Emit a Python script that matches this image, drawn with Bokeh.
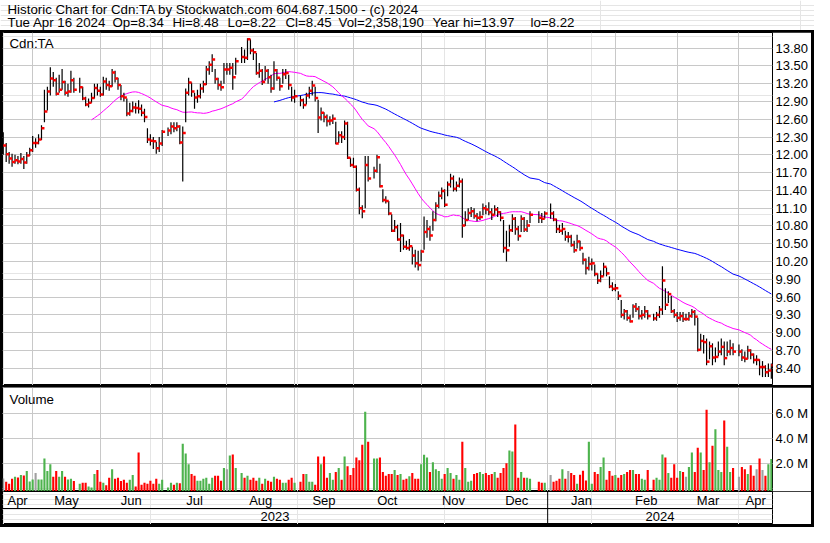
import numpy as np
import pandas as pd
from bokeh.plotting import figure
from bokeh.layouts import column
from bokeh.models import (ColumnDataSource, Range1d, LinearAxis, FixedTicker,
                          PrintfTickFormatter, Grid, Label, Span)
from bokeh.transform import dodge
from bokeh.core.properties import value
from bokeh.embed import file_html
from bokeh.resources import INLINE

FONT = "Liberation Sans"

# ------------------------------------------------------------------ data
first_day = "2023-04-17"
last_day = "2024-04-16"
market_holidays = ["2023-05-22", "2023-07-03", "2023-08-07", "2023-09-04",
                   "2023-10-09", "2023-12-25", "2023-12-26", "2024-01-01",
                   "2024-02-19", "2024-03-29"]

close = [
    12.16, 12.01, 11.94, 11.88, 11.91,
    11.89, 11.93, 11.87, 11.99, 12.08,
    12.20, 12.20, 12.26, 12.45, 12.73,
    13.07, 13.29, 13.26, 13.03, 13.10,
    13.23, 13.05, 13.07, 13.26, 13.10,
    13.14, 12.95, 12.85, 12.88,
    12.96, 13.13, 13.08, 13.02, 13.24,
    13.18, 13.16, 13.39, 13.29, 13.18,
    12.99, 12.97, 12.70, 12.74, 12.80,
    12.79, 12.78, 12.71, 12.64, 12.26,
    12.24, 12.23, 12.11, 12.19, 12.39,
    12.41, 12.48, 12.45, 12.48,
    12.21, 12.37, 13.05, 13.22, 13.07,
    12.97, 12.99, 13.12, 13.19, 13.44,
    13.52, 13.61, 13.28, 13.18, 13.14,
    13.44, 13.44, 13.47, 13.31, 13.58,
    13.65, 13.64, 13.95, 13.76,
    13.73, 13.38, 13.42, 13.23, 13.42,
    13.31, 13.12, 13.43, 13.30, 13.16,
    13.36, 13.38, 13.18, 12.97, 12.99,
    12.92, 12.84, 13.00, 13.08,
    13.17, 12.96, 12.63, 12.71, 12.64,
    12.57, 12.58, 12.61, 12.19, 12.33,
    12.30, 12.53, 11.95, 11.83, 11.80,
    11.41, 11.10, 11.05, 11.83, 11.60,
    11.73, 11.96, 11.47, 11.24,
    11.22, 11.01, 10.72, 10.78, 10.57,
    10.64, 10.45, 10.43, 10.46, 10.30,
    10.17, 10.14, 10.37, 10.70, 10.75,
    10.64, 10.90, 11.14, 11.31, 11.39,
    11.16, 11.50, 11.60, 11.43, 11.48,
    11.55, 10.81, 10.90, 11.02, 11.05,
    10.97, 10.94, 10.95, 11.10, 11.08,
    11.03, 10.99, 11.08, 11.03, 10.94,
    10.43, 10.39, 10.73, 10.92, 10.75,
    10.63, 10.92, 10.74, 10.81, 10.99,
    10.94, 10.92, 11.01,
    11.01, 10.91, 10.75, 10.72,
    10.75, 10.62, 10.62, 10.48, 10.39,
    10.54, 10.43, 10.23, 10.09, 10.16,
    10.17, 9.99, 9.88, 9.95, 10.11,
    10.00, 9.78, 9.74, 9.75, 9.62,
    9.30, 9.36, 9.25, 9.19, 9.44,
    9.40, 9.28, 9.30, 9.36, 9.28,
    9.24, 9.30, 9.39, 9.88,
    9.47, 9.65, 9.36, 9.30, 9.25,
    9.28, 9.23, 9.23, 9.28, 9.35,
    9.27, 8.71, 8.86, 8.84, 8.51,
    8.77, 8.58, 8.59, 8.68, 8.76,
    8.57, 8.68, 8.74, 8.68,
    8.68, 8.58, 8.56, 8.70, 8.63,
    8.54, 8.54, 8.42, 8.42, 8.33,
    8.36, 8.45,
]

high = [
    12.38, 12.20, 12.05, 12.02, 12.00,
    11.98, 12.03, 11.98, 12.05, 12.12,
    12.32, 12.28, 12.35, 12.50, 13.10,
    13.15, 13.48, 13.40, 13.30, 13.35,
    13.45, 13.25, 13.20, 13.42, 13.30,
    13.30, 13.15, 12.98, 12.95,
    13.05, 13.20, 13.20, 13.15, 13.32,
    13.30, 13.25, 13.45, 13.42, 13.30,
    13.18, 13.05, 12.95, 12.88, 12.90,
    12.88, 12.92, 12.85, 12.78, 12.45,
    12.35, 12.30, 12.22, 12.30, 12.42,
    12.46, 12.55, 12.55, 12.55,
    12.50, 12.48, 13.12, 13.30, 13.22,
    13.05, 13.10, 13.20, 13.25, 13.50,
    13.58, 13.70, 13.45, 13.30, 13.25,
    13.55, 13.55, 13.55, 13.55, 13.64,
    13.82, 13.78, 13.97, 13.95,
    13.80, 13.72, 13.55, 13.45, 13.50,
    13.45, 13.35, 13.58, 13.45, 13.30,
    13.45, 13.45, 13.35, 13.15, 13.10,
    13.00, 12.95, 13.05, 13.15,
    13.25, 13.15, 12.93, 12.80, 12.72,
    12.68, 12.65, 12.68, 12.56, 12.40,
    12.40, 12.58, 12.56, 11.95, 11.95,
    11.82, 11.45, 11.15, 11.98, 11.98,
    11.80, 12.00, 11.85, 11.42,
    11.30, 11.22, 11.00, 10.90, 10.82,
    10.85, 10.65, 10.55, 10.58, 10.45,
    10.40, 10.38, 10.40, 10.96, 10.90,
    10.80, 11.05, 11.20, 11.38, 11.45,
    11.42, 11.55, 11.68, 11.65, 11.55,
    11.62, 11.60, 11.05, 11.10, 11.12,
    11.10, 11.02, 11.05, 11.18, 11.15,
    11.20, 11.10, 11.15, 11.12, 11.05,
    10.90, 10.72, 10.82, 11.00, 10.95,
    10.80, 10.98, 10.95, 10.90, 11.05,
    11.05, 11.02, 11.05,
    11.18, 11.05, 10.92, 10.82,
    10.85, 10.72, 10.70, 10.65, 10.55,
    10.65, 10.55, 10.35, 10.25, 10.28,
    10.25, 10.15, 10.00, 10.05, 10.18,
    10.10, 9.95, 9.85, 9.82, 9.70,
    9.55, 9.40, 9.38, 9.30, 9.48,
    9.50, 9.45, 9.38, 9.45, 9.38,
    9.32, 9.35, 9.45, 10.12,
    9.75, 9.70, 9.62, 9.40, 9.35,
    9.35, 9.35, 9.32, 9.35, 9.40,
    9.38, 9.25, 8.98, 8.96, 8.90,
    8.85, 8.82, 8.75, 8.85, 8.90,
    8.85, 8.85, 8.88, 8.82,
    8.80, 8.72, 8.68, 8.78, 8.72,
    8.65, 8.62, 8.55, 8.52, 8.45,
    8.48, 8.48,
]

low = [
    12.00, 11.88, 11.85, 11.80, 11.85,
    11.84, 11.85, 11.76, 11.85, 11.98,
    12.05, 12.12, 12.18, 12.25, 12.55,
    12.75, 13.00, 13.15, 13.00, 13.05,
    13.10, 13.00, 12.98, 13.05, 13.05,
    13.05, 12.92, 12.82, 12.80,
    12.88, 12.95, 13.00, 12.98, 13.00,
    13.10, 13.08, 13.15, 13.22, 13.10,
    12.92, 12.90, 12.65, 12.66, 12.72,
    12.70, 12.70, 12.65, 12.55, 12.20,
    12.16, 12.10, 12.02, 12.05, 12.15,
    12.32, 12.35, 12.38, 12.40,
    12.18, 11.55, 12.55, 13.00, 12.98,
    12.78, 12.88, 12.95, 13.05, 13.18,
    13.35, 13.40, 13.20, 13.10, 13.08,
    13.20, 13.35, 13.35, 13.10, 13.35,
    13.55, 13.55, 13.60, 13.70,
    13.60, 13.35, 13.30, 13.18, 13.25,
    13.20, 13.05, 13.10, 13.25, 13.08,
    13.20, 13.28, 13.10, 12.90, 12.88,
    12.82, 12.78, 12.85, 12.95,
    13.00, 12.90, 12.37, 12.58, 12.55,
    12.48, 12.50, 12.52, 12.18, 12.20,
    12.20, 12.25, 11.93, 11.80, 11.78,
    11.38, 11.00, 10.93, 11.10, 11.55,
    11.60, 11.70, 11.45, 11.20,
    11.18, 10.98, 10.70, 10.70, 10.55,
    10.36, 10.40, 10.40, 10.38, 10.15,
    10.10, 10.05, 10.20, 10.40, 10.60,
    10.55, 10.72, 10.88, 11.10, 11.25,
    11.12, 11.30, 11.45, 11.38, 11.38,
    11.45, 10.60, 10.80, 10.90, 10.95,
    10.92, 10.88, 10.90, 10.98, 11.00,
    10.98, 10.90, 10.98, 10.95, 10.88,
    10.35, 10.20, 10.45, 10.70, 10.65,
    10.55, 10.70, 10.70, 10.70, 10.85,
    10.85, 10.85, 10.92,
    10.92, 10.88, 10.68, 10.68,
    10.65, 10.55, 10.52, 10.45, 10.35,
    10.42, 10.38, 10.15, 9.98, 10.05,
    10.05, 9.95, 9.82, 9.85, 9.95,
    9.95, 9.75, 9.70, 9.70, 9.55,
    9.25, 9.22, 9.20, 9.17, 9.25,
    9.35, 9.22, 9.22, 9.25, 9.22,
    9.20, 9.20, 9.25, 9.30,
    9.38, 9.50, 9.33, 9.25, 9.18,
    9.20, 9.18, 9.20, 9.20, 9.25,
    9.12, 8.68, 8.70, 8.65, 8.45,
    8.55, 8.45, 8.50, 8.60, 8.62,
    8.45, 8.60, 8.62, 8.62,
    8.60, 8.52, 8.50, 8.55, 8.55,
    8.48, 8.45, 8.28, 8.25, 8.25,
    8.25, 8.22,
]

volume_m = [
    0.82, 0.56, 0.41, 0.79, 0.95,
    0.90, 1.10, 1.05, 1.41, 0.59,
    0.74, 1.26, 0.74, 0.74, 2.41,
    1.41, 1.95, 0.95, 1.41, 0.95,
    1.41, 0.95, 0.74, 0.79, 0.62,
    0.41, 0.49, 0.49, 0.18,
    0.10, 1.18, 1.49, 0.56, 0.49,
    0.28, 0.87, 1.56, 0.79, 0.87,
    0.62, 0.72, 0.49, 0.72, 1.10,
    0.18, 2.87, 0.33, 0.49, 0.41,
    0.64, 0.41, 0.79, 0.41, 0.72,
    0.10, 0.49, 0.33, 0.49,
    0.44, 3.56, 2.79, 1.95, 1.18,
    1.03, 0.64, 0.64, 0.79, 0.87,
    0.41, 0.87, 1.03, 1.03, 0.64,
    1.64, 1.56, 2.64, 2.72, 1.64,
    1.26, 0.87, 1.03, 0.72,
    0.87, 0.64, 0.87, 0.41, 0.79,
    0.64, 0.56, 0.95, 0.79, 0.72,
    0.49, 0.49, 0.72, 0.87, 0.49,
    0.56, 1.18, 1.18, 0.56,
    0.56, 0.33, 2.56, 1.95, 2.56,
    0.87, 1.26, 0.72, 1.33, 1.64,
    0.72, 2.56, 1.79, 1.10, 1.64,
    2.49, 2.26, 3.49, 6.10, 3.72,
    2.41, 2.41, 2.49, 1.33,
    1.03, 1.18, 1.18, 1.49, 1.10,
    1.18, 0.72, 0.79, 1.00, 1.26,
    0.79, 0.79, 1.95, 2.69, 2.49,
    1.33, 2.10, 1.56, 1.41, 0.79,
    1.18, 1.64, 1.26, 0.79, 1.10,
    0.72, 3.72, 1.64, 0.56, 0.64,
    1.18, 1.26, 1.33, 1.18, 1.26,
    1.10, 1.18, 1.33, 0.87, 1.26,
    1.64, 2.03, 3.03, 2.95, 5.10,
    0.87, 1.33, 0.87, 0.87, 0.79,
    0.56, 0.49, 0.49,
    1.10, 0.56, 0.64, 0.79,
    1.56, 0.79, 1.41, 1.26, 1.10,
    0.41, 1.12, 1.43, 0.66, 3.72,
    0.41, 1.33, 1.18, 1.72, 2.48,
    0.72, 1.41, 1.03, 1.10, 0.87,
    1.10, 1.18, 1.33, 1.49, 1.49,
    1.18, 1.18, 0.79, 0.72, 1.49,
    0.72, 0.87, 0.72, 2.72,
    2.49, 1.26, 0.87, 1.95, 0.87,
    1.41, 1.33, 0.95, 1.72, 2.87,
    1.33, 3.26, 2.87, 1.49, 6.26,
    2.10, 3.41, 4.72, 1.49, 1.33,
    5.41, 3.33, 1.33, 1.64,
    0.95, 1.72, 1.56, 1.18, 1.87,
    1.03, 1.56, 2.41, 1.49, 1.03,
    1.95, 2.358,
]

month_starts = ["2023-05-01", "2023-06-01", "2023-07-01", "2023-08-01",
                "2023-09-01", "2023-10-01", "2023-11-01", "2023-12-01",
                "2024-01-01", "2024-02-01", "2024-03-01", "2024-04-01"]
month_names = ["Apr", "May", "Jun", "Jul", "Aug", "Sep", "Oct", "Nov",
               "Dec", "Jan", "Feb", "Mar", "Apr"]
year_break = "2024-01-01"
year_names = ["2023", "2024"]
price_ticks = [8.40, 8.70, 9.00, 9.30, 9.60, 9.90, 10.20, 10.50, 10.80,
               11.10, 11.40, 11.70, 12.00, 12.30, 12.60, 12.90, 13.20,
               13.50, 13.80]
volume_ticks = [2.0, 4.0, 6.0]
ma_fast = 30
ma_slow = 90
symbol = "Cdn:TA"
header_title = "Historic Chart for Cdn:TA by Stockwatch.com 604.687.1500 - (c) 2024"
header_fields = ["Tue Apr 16 2024", "Op=8.34", "Hi=8.48", "Lo=8.22",
                 "Cl=8.45", "Vol=2,358,190", "Year hi=13.97", "lo=8.22"]

# ------------------------------------------------------------------ derived
days = pd.bdate_range(first_day, last_day)
days = days[~days.isin(pd.to_datetime(market_holidays))]
d64 = days.values.astype("datetime64[D]")
origin = np.datetime64(first_day)
xpos = np.busday_count(origin, d64).astype(float)


def slot(d):
    dd = np.busday_offset(np.datetime64(d), 0, roll="backward")
    return float(np.busday_count(origin, dd))


month_x = [slot(d) for d in month_starts]
jan_x = slot(year_break)

c_arr = np.array(close, dtype=float)
prev = np.r_[np.nan, c_arr[:-1]]
GREEN, RED, GRAY = "#4db34d", "#ff0000", "#a0a0a0"
vcolor = np.where(np.isnan(prev) | (c_arr == prev), GRAY,
                  np.where(c_arr > prev, GREEN, RED))
cs = pd.Series(c_arr)
ma1 = cs.rolling(ma_fast).mean().values
ma2 = cs.rolling(ma_slow).mean().values

src = ColumnDataSource(dict(x=xpos, high=high, low=low, close=close,
                            vol=volume_m, color=list(vcolor),
                            ma1=ma1, ma2=ma2))

# ------------------------------------------------------------------ layout
X0, X1 = -0.25, 261.4
xr = Range1d(X0, X1)
FIG_W = 809
RIGHT = 34
GRID_C = "#c8c8c8"


def base_fig(h, yr):
    f = figure(width=FIG_W, height=h, x_range=xr, y_range=yr,
               x_axis_location=None, y_axis_location=None,
               toolbar_location=None, output_backend="svg",
               min_border_left=0, min_border_right=RIGHT,
               min_border_top=0, min_border_bottom=0,
               background_fill_color="white", border_fill_color="white",
               outline_line_color="black", outline_line_width=1)
    return f


def right_axis(f, ticks, fmt):
    ax = LinearAxis(ticker=FixedTicker(ticks=ticks),
                    formatter=PrintfTickFormatter(format=fmt),
                    axis_line_color=None, major_tick_line_color=None,
                    minor_tick_line_color=None, major_label_standoff=3,
                    major_tick_out=0, major_tick_in=0,
                    major_label_text_font=FONT,
                    major_label_text_font_size="13px",
                    major_label_text_color="black")
    f.add_layout(ax, "right")


# price panel
PH = 353
pf = base_fig(PH, Range1d(8.108, 14.065))
pf.add_layout(Grid(dimension=1, ticker=FixedTicker(ticks=price_ticks),
                   grid_line_color=GRID_C, grid_line_width=1))
pf.add_layout(Grid(dimension=0, ticker=FixedTicker(ticks=month_x),
                   grid_line_color=GRID_C, grid_line_width=1))
right_axis(pf, price_ticks, "%.2f")
pf.line("x", "ma2", source=src, line_color="#0000ff", line_width=1)
pf.line("x", "ma1", source=src, line_color="#ff00ff", line_width=1)
pf.segment(x0="x", y0="low", x1="x", y1="high", source=src,
           line_color="black", line_width=1.2)
pf.rect(x=dodge("x", 0.5, range=xr), y="close", width=3, height=2.5,
        width_units="screen", height_units="screen", source=src,
        fill_color="#ff0000", line_color=None)
pf.add_layout(Label(x=7, y=PH - 3, x_units="screen", y_units="screen",
                    text=symbol, text_font=FONT, text_font_size="13.3px",
                    text_baseline="top", text_color="black"))

# volume panel
VH = 104
VY0 = -0.21
vf = base_fig(VH, Range1d(VY0, 8.02))
vf.add_layout(Grid(dimension=1, ticker=FixedTicker(ticks=volume_ticks),
                   grid_line_color=GRID_C, grid_line_width=1))
vf.add_layout(Grid(dimension=0, ticker=FixedTicker(ticks=month_x),
                   grid_line_color=GRID_C, grid_line_width=1))
right_axis(vf, volume_ticks, "%.1f M")
vf.vbar(x="x", top="vol", bottom=VY0, width=0.72, source=src,
        fill_color="color", line_color=None)
vf.add_layout(Label(x=7, y=VH - 4, x_units="screen", y_units="screen",
                    text="Volume", text_font=FONT, text_font_size="13.3px",
                    text_baseline="top", text_color="black"))

# month / year label rows
LH = 33
lf = base_fig(LH, Range1d(0, LH))
bounds = [X0] + month_x + [X1]
month_mid = [(bounds[i] + bounds[i + 1]) / 2 for i in range(len(month_names))]
year_mid = [(X0 + jan_x) / 2, (jan_x + X1) / 2]
lf.text(x=month_mid, y=[24.5] * len(month_mid), text=month_names,
        text_align="center", text_baseline="middle",
        text_font=value(FONT), text_font_size="13px", text_color="black")
lf.text(x=year_mid, y=[8.0] * len(year_mid), text=year_names,
        text_align="center", text_baseline="middle",
        text_font=value(FONT), text_font_size="13px", text_color="black")
lf.add_layout(Span(location=16, dimension="width", line_color="black",
                   line_width=1))
lf.add_layout(Span(location=jan_x, dimension="height", line_color="black",
                   line_width=1))

# header
HH = 30
hf = figure(width=814, height=HH, x_range=Range1d(0, 814),
            y_range=Range1d(HH, 0), x_axis_location=None,
            y_axis_location=None, toolbar_location=None, output_backend="svg",
            min_border=0, outline_line_color=None,
            background_fill_color="white", border_fill_color="white")
hf.text(x=[7], y=[1], text=[header_title], text_baseline="top",
        text_font=value(FONT), text_font_size="13.3px", text_color="black")
field_x = [7, 112, 172, 227, 285, 338, 432, 530]
hf.text(x=field_x, y=[14.5] * len(field_x), text=header_fields,
        text_baseline="top", text_font=value(FONT),
        text_font_size="13.3px", text_color="black")

lower = column(vf, lf, spacing=0)
panel = column(pf, lower, spacing=2,
               styles={"background-color": "black",
                       "padding": "2px 3px 3px 2px"})
page = column(hf, panel, spacing=0)

open("out.html", "w").write(file_html(page, INLINE, title="Cdn:TA"))
